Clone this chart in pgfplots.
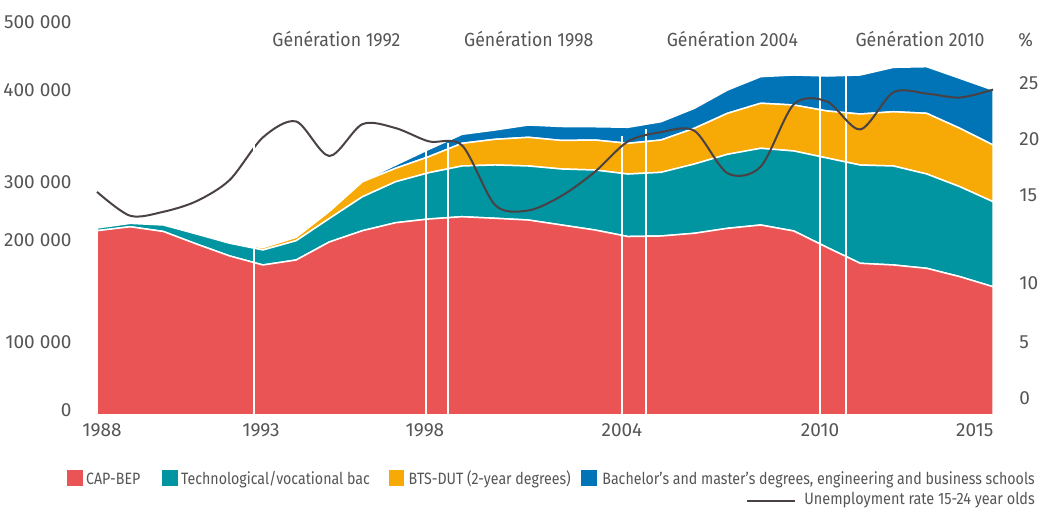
\documentclass[border=0pt]{standalone}
\usepackage{fontspec}
\setmainfont{Fira Sans}
\newfontfamily\legfont[FakeStretch=0.865]{Fira Sans}
\newfontfamily\legfontb[FakeStretch=0.88]{Fira Sans}
\newfontfamily\genfont[FakeStretch=0.93]{Fira Sans}
\usepackage{pgfplots}
\pgfplotsset{compat=1.18}
\usepackage{pgfplotstable}

\definecolor{cred}{HTML}{EA5455}
\definecolor{cteal}{HTML}{0095A1}
\definecolor{corange}{HTML}{F7AA06}
\definecolor{cblue}{HTML}{0074B7}
\definecolor{cline}{HTML}{4A4145}
\definecolor{ctext}{HTML}{555555}

\pgfplotstableread{
year cap tech bts bach
1988 233300 3400 0 0
1989 238300 4300 0 0
1990 232300 8200 0 0
1991 216400 12700 0 0
1992 201300 16100 800 0
1993 189900 19000 2900 0
1994 196200 24400 4300 0
1995 219000 29700 8900 600
1996 233300 43000 19000 900
1997 243400 51900 17000 4200
1998 248100 58600 20300 9400
1999 251000 64200 28700 11400
2000 249000 67500 32500 11800
2001 246800 68400 36300 15600
2002 240500 70900 36100 17700
2003 234200 75900 38000 16800
2004 225900 79100 38900 20300
2005 226600 80600 40900 23200
2006 230000 87700 45200 25300
2007 236300 93700 51900 29500
2008 240500 97100 57000 33700
2009 232900 101300 58200 38000
2010 212100 113200 59500 44300
2011 192000 124400 64600 49400
2012 189900 125300 68700 56200
2013 185700 119400 76800 59000
2014 175100 113900 73900 63300
2015 162400 107600 71800 69600
}\edu

\pgfplotstableread{
year rate
1988 16.8
1989 15.0
1990 15.3
1991 16.1
1992 17.7
1993 20.9
1994 22.1
1995 19.5
1996 21.9
1997 21.6
1998 20.6
1999 20.3
2000 15.8
2001 15.4
2002 16.5
2003 18.3
2004 20.6
2005 21.3
2006 21.4
2007 18.2
2008 18.7
2009 23.4
2010 23.6
2011 21.5
2012 24.3
2013 24.2
2014 23.9
2015 24.5
}\unemp

\begin{document}
\begin{tikzpicture}
\begin{axis}[
  at={(48.5pt,46.5pt)}, anchor=south west,
  scale only axis, width=448pt, height=197.5pt,
  xmin=1988, xmax=2015, ymin=0, ymax=500000,
  axis line style={draw=none}, tick style={draw=none},
  xtick={1988.15,1992.94,1997.88,2003.82,2009.79,2014.45},
  xticklabels={1988,1993,1998,2004,2010,2015},
  ytick={6300,92800,220900,295300,411400,497000},
  yticklabels={0,100 000,200 000,300 000,400 000,500 000},
  scaled y ticks=false,
  ticklabel style={font=\fontsize{9.5}{11}\selectfont, text=ctext},
  yticklabel style={anchor=east, inner sep=0pt, xshift=-12.5pt},
  xticklabel style={anchor=north, inner sep=0pt, yshift=-4.25pt},
  stack plots=y,
  clip=false,
]
\addplot[fill=cred, draw=white, line width=0.75pt] table[x=year,y=cap]{\edu} \closedcycle;
\addplot[fill=cteal, draw=white, line width=0.75pt] table[x=year,y=tech]{\edu} \closedcycle;
\addplot[fill=corange, draw=white, line width=0.75pt] table[x=year,y=bts]{\edu} \closedcycle;
\addplot[fill=cblue, draw=white, line width=0.75pt] table[x=year,y=bach]{\edu} \closedcycle;
\end{axis}

\begin{axis}[
  at={(48.5pt,46.5pt)}, anchor=south west,
  scale only axis, width=448pt, height=197.5pt,
  xmin=1988, xmax=2015, ymin=0, ymax=29.74,
  axis y line*=right, axis x line*=bottom,
  axis line style={draw=none}, tick style={draw=none},
  xtick=\empty,
  ytick={1.28,5.5,9.94,16.57,20.8,25.0},
  yticklabels={0,5,10,15,20,25},
  ticklabel style={font=\fontsize{9.5}{11}\selectfont, text=ctext},
  yticklabel style={anchor=west, inner sep=0pt, xshift=13pt},
  clip=false,
]
\addplot[white, line width=1pt] coordinates {(1992.73,0) (1992.73,13)};
\addplot[white, line width=1pt] coordinates {(1997.91,0) (1997.91,20)};
\addplot[white, line width=1pt] coordinates {(1998.58,0) (1998.58,20.5)};
\addplot[white, line width=1pt] coordinates {(2003.82,0) (2003.82,21)};
\addplot[white, line width=1pt] coordinates {(2004.54,0) (2004.54,21.5)};
\addplot[white, line width=1pt] coordinates {(2009.79,0) (2009.79,26)};
\addplot[white, line width=1pt] coordinates {(2010.57,0) (2010.57,26)};
\addplot[cline, line width=1pt, smooth] table[x=year,y=rate]{\unemp};
\addplot[white, line width=1pt] coordinates {(1992.73,13) (1992.73,22)};
\end{axis}

% annotations
\begin{scope}[every node/.style={text=ctext, font=\genfont\fontsize{9.5}{11}\selectfont}]
\node[anchor=base] at (168.2pt,230.75pt) {Génération 1992};
\node[anchor=base] at (264.4pt,230.75pt) {Génération 1998};
\node[anchor=base] at (366.2pt,230.75pt) {Génération 2004};
\node[anchor=base] at (460pt,230.75pt) {Génération 2010};
\node[anchor=base west, inner sep=0pt] at (509pt,230.75pt) {\%};
\end{scope}

% legend
\begin{scope}[every node/.style={text=ctext, inner sep=0pt, anchor=base west, font=\legfont\fontsize{8.2}{10}\selectfont}]
\fill[cred] (33.65pt,11.15pt) rectangle (41.35pt,19pt);
\node at (42.85pt,11.5pt) {CAP-BEP};
\fill[cteal] (81.15pt,11.15pt) rectangle (88.85pt,19pt);
\node at (90.35pt,11.5pt) {Technological/vocational bac};
\fill[corange] (194.5pt,11.15pt) rectangle (202.15pt,19pt);
\node at (204.15pt,11.5pt) {BTS-DUT (2-year degrees)};
\fill[cblue] (290.5pt,11.15pt) rectangle (298.35pt,19pt);
\node[anchor=base east] at (517.6pt,11.5pt) {Bachelor’s and master’s degrees, engineering and business schools};
\draw[cline, line width=1pt] (373.5pt,3.4pt) -- (397.5pt,3.4pt);
\node[anchor=base east, font=\legfontb\fontsize{8.2}{10}\selectfont] at (517.6pt,1.6pt) {Unemployment rate 15-24 year olds};
\end{scope}

\pgfresetboundingbox
\path[use as bounding box] (0,0) rectangle (519.5pt,254pt);
\end{tikzpicture}
\end{document}
